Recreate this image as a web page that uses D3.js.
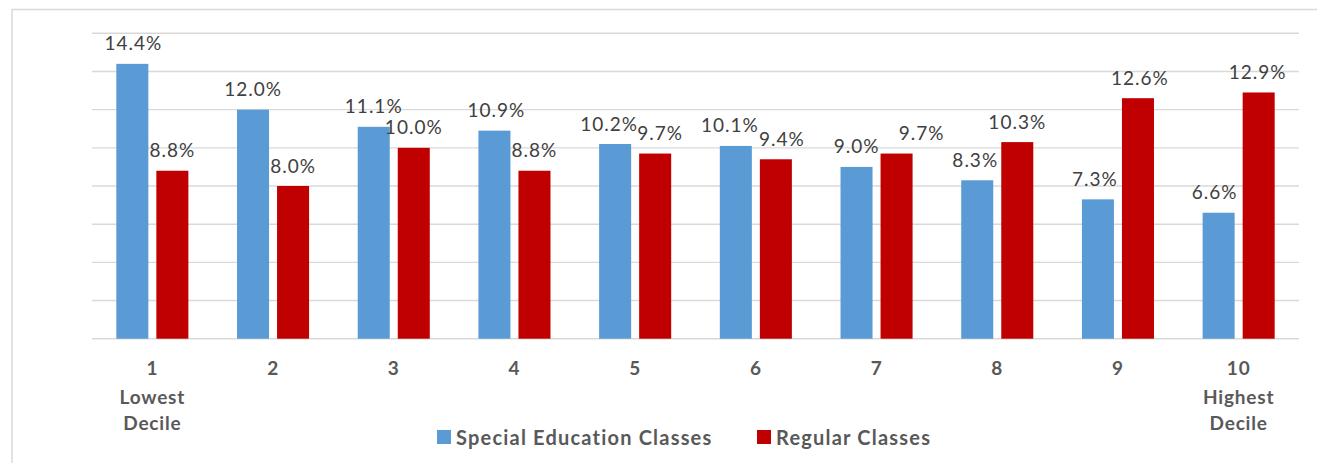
<!DOCTYPE html>
<html>
<head>
<meta charset="utf-8">
<script src="https://cdn.jsdelivr.net/npm/d3@7"></script>
<style>
  html, body { margin: 0; padding: 0; background: #fff; }
  svg { display: block; }
</style>
</head>
<body>
<script>
// ---- data ----
const categories = ["1", "2", "3", "4", "5", "6", "7", "8", "9", "10"];
const categorySubLabels = [["Lowest", "Decile"], [], [], [], [], [], [], [], [], ["Highest", "Decile"]];
const seriesNames = ["Special Education Classes", "Regular Classes"];
const specialEd = [14.4, 12.0, 11.1, 10.9, 10.2, 10.1, 9.0, 8.3, 7.3, 6.6];
const regular = [8.8, 8.0, 10.0, 8.8, 9.7, 9.4, 9.7, 10.3, 12.6, 12.9];
const yTicks = [0, 2, 4, 6, 8, 10, 12, 14, 16];
const colors = ["#5B9BD5", "#C00000"];

// label nudges (layout only, px) to mimic the reference's hand-placed labels
const labelNudge = [
  [1, 0], [0, 0], [0, 0], [2, 0], [-6, 5], [-6, 6], [0, 25], [-2, 0], [-3, 2], [-4, -1]
];

// ---- layout ----
const W = 1317, H = 463;
const FONT = "Lato, 'Open Sans', sans-serif";
const svg = d3.select("body").append("svg").attr("width", W).attr("height", H);

// chart border
svg.append("rect")
  .attr("x", 12).attr("y", 9.5)
  .attr("width", W + 20).attr("height", H + 20)
  .attr("fill", "none").attr("stroke", "#d9d9d9").attr("stroke-width", 1.5);

const x0 = 92, x1 = 1299, yTop = 33.3, yBase = 338.7;

const x = d3.scaleBand().domain(categories).range([x0, x1]).paddingInner(0).paddingOuter(0);
const groupW = x.bandwidth() * 0.597;
const xs = d3.scaleBand().domain(seriesNames).range([0, groupW]).paddingInner(0.2).paddingOuter(0);
const y = d3.scaleLinear().domain([0, 16]).range([yBase, yTop]);

// gridlines
svg.append("g").selectAll("line").data(yTicks).join("line")
  .attr("x1", x0).attr("x2", x1)
  .attr("y1", d => y(d)).attr("y2", d => y(d))
  .attr("stroke", "#d9d9d9").attr("stroke-width", d => d === 0 ? 1.6 : 1.4);

const rows = categories.map((c, i) => ({ cat: c, i, vals: [specialEd[i], regular[i]] }));

const groups = svg.append("g").selectAll("g").data(rows).join("g")
  .attr("transform", d => `translate(${x(d.cat) + (x.bandwidth() - groupW) / 2},0)`);

groups.selectAll("rect").data(d => d.vals.map((v, j) => ({ v, s: seriesNames[j], j, i: d.i })))
  .join("rect")
  .attr("x", d => xs(d.s)).attr("width", xs.bandwidth())
  .attr("y", d => y(d.v)).attr("height", d => yBase - y(d.v))
  .attr("fill", d => colors[d.j]);

groups.selectAll("text").data(d => d.vals.map((v, j) => ({ v, s: seriesNames[j], j, i: d.i })))
  .join("text")
  .attr("x", d => xs(d.s) + xs.bandwidth() / 2 + labelNudge[d.i][d.j])
  .attr("y", d => y(d.v) - 21)
  .attr("text-anchor", "middle").attr("dominant-baseline", "central")
  .attr("font-family", FONT).attr("font-size", 19).attr("letter-spacing", 1)
  .attr("fill", "#404040")
  .text(d => d.v.toFixed(1) + "%");

// x axis labels
const xl = svg.append("g").selectAll("text").data(categories).join("text")
  .attr("x", d => x(d) + x.bandwidth() / 2)
  .attr("text-anchor", "middle")
  .attr("font-family", FONT).attr("font-weight", "bold").attr("font-size", 19)
  .attr("letter-spacing", 0.8)
  .attr("fill", "#595959");
xl.append("tspan").attr("x", d => x(d) + x.bandwidth() / 2).attr("y", 367).attr("dominant-baseline", "central").text(d => d);
xl.each(function(d, i) {
  categorySubLabels[i].forEach((t, k) => {
    d3.select(this).append("tspan")
      .attr("x", x(d) + x.bandwidth() / 2).attr("y", 396 + k * 26)
      .attr("dominant-baseline", "central").text(t);
  });
});

// legend
const legendX = [437, 757];
const lg = svg.append("g").selectAll("g").data(seriesNames).join("g")
  .attr("transform", (d, i) => `translate(${legendX[i]},437)`);
lg.append("rect").attr("x", 0).attr("y", -7).attr("width", 14).attr("height", 14)
  .attr("fill", (d, i) => colors[i]);
lg.append("text").attr("x", 19).attr("y", 0).attr("dominant-baseline", "central")
  .attr("font-family", FONT).attr("font-weight", "bold").attr("font-size", 20)
  .attr("letter-spacing", 1.2)
  .attr("fill", "#595959").text(d => d);
</script>
</body>
</html>
